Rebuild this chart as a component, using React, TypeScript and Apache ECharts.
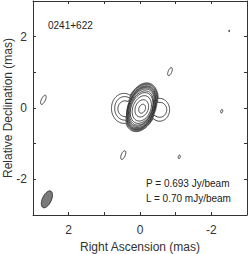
import React, { useEffect, useRef } from "react";
import * as echarts from "echarts";

// Axis ranges (mas)
const xRange = [-3, 3];
const yRange = [-3, 3];
const tickStep = 1;

// Source info
const sourceName = "0241+622";
const peakLabel = "P = 0.693 Jy/beam";
const lowestLabel = "L = 0.70 mJy/beam";

// Core (closed elliptical) contours: [cx, cy, semiMajor, semiMinor, tiltDeg]
const coreContours: number[][] = [
  [-0.04, 0.01, 0.635, 0.38, 20],
  [-0.04, 0.01, 0.61, 0.365, 20],
  [-0.04, 0.01, 0.58, 0.35, 20],
  [-0.04, 0.01, 0.545, 0.33, 21],
  [-0.04, 0.0, 0.5, 0.31, 21],
  [-0.045, 0.0, 0.45, 0.29, 22],
  [-0.05, -0.01, 0.37, 0.25, 22],
  [-0.05, -0.01, 0.25, 0.18, 22],
  [-0.06, -0.02, 0.13, 0.09, 22],
];

// Outer contours that bulge around the east and west jet components
// body: [cx, cy, semiMajor, semiMinor, tiltDeg]
const lobedBody: number[][] = [
  [-0.04, 0.02, 0.71, 0.43, 20],
  [-0.04, 0.02, 0.685, 0.415, 20],
  [-0.04, 0.02, 0.66, 0.4, 20],
];
// east lobe: [cx, cy, semiY, semiX] (or empty)
const eastLobe: number[][] = [
  [0.45, -0.01, 0.42, 0.35],
  [0.43, -0.01, 0.33, 0.28],
  [0.42, -0.02, 0.22, 0.2],
];
// west lobe: [cx, cy, semiY, semiX] (or empty)
const westLobe: number[][] = [
  [-0.55, -0.05, 0.32, 0.28],
  [-0.55, -0.05, 0.21, 0.2],
  [],
];

// Isolated lowest-level contours: [cx, cy, semiMajor, semiMinor, tiltDeg]
const noiseContours: number[][] = [
  [-0.84, 1.02, 0.12, 0.05, 22],
  [2.71, 0.23, 0.14, 0.055, 25],
  [0.47, -1.32, 0.13, 0.055, 22],
  [-1.1, -1.37, 0.05, 0.028, 15],
  [-2.29, -0.09, 0.05, 0.028, 15],
  [-2.5, 2.16, 0.025, 0.012, 0],
];

// Restoring beam: [cx, cy, semiMajor, semiMinor, tiltDeg]
const beam: number[][] = [[2.61, -2.56, 0.255, 0.125, 25]];

const FONT = "'Liberation Sans', Arial, Helvetica, sans-serif";

function frame(tiltDeg: number) {
  const t = (tiltDeg * Math.PI) / 180;
  return { u: [-Math.sin(t), Math.cos(t)], v: [Math.cos(t), Math.sin(t)] };
}

function ellipsePoints(cx: number, cy: number, a: number, b: number, tilt: number, n = 90) {
  const { u, v } = frame(tilt);
  const pts: number[][] = [];
  for (let k = 0; k < n; k++) {
    const s = (2 * Math.PI * k) / n;
    const ca = a * Math.cos(s);
    const sb = b * Math.sin(s);
    pts.push([cx + ca * u[0] + sb * v[0], cy + ca * u[1] + sb * v[1]]);
  }
  return pts;
}

// farthest intersection of ray from origin o along d with ellipse
function farHit(o: number[], d: number[], cx: number, cy: number, a: number, b: number, tilt: number) {
  const { u, v } = frame(tilt);
  const w = [o[0] - cx, o[1] - cy];
  const du = d[0] * u[0] + d[1] * u[1];
  const dv = d[0] * v[0] + d[1] * v[1];
  const wu = w[0] * u[0] + w[1] * u[1];
  const wv = w[0] * v[0] + w[1] * v[1];
  const A = (du * du) / (a * a) + (dv * dv) / (b * b);
  const B = 2 * ((wu * du) / (a * a) + (wv * dv) / (b * b));
  const C = (wu * wu) / (a * a) + (wv * wv) / (b * b) - 1;
  const disc = B * B - 4 * A * C;
  if (disc < 0) return -1;
  return (-B + Math.sqrt(disc)) / (2 * A);
}

function lobedPoints(i: number, n = 360) {
  const body = lobedBody[i];
  const o = [body[0], body[1]];
  const lobes = [eastLobe[i], westLobe[i]].filter((l) => l && l.length === 4);
  const pts: number[][] = [];
  for (let k = 0; k < n; k++) {
    const th = (2 * Math.PI * k) / n;
    const d = [Math.cos(th), Math.sin(th)];
    let r = farHit(o, d, body[0], body[1], body[2], body[3], body[4]);
    for (const l of lobes) {
      const t = farHit(o, d, l[0], l[1], l[2], l[3], 0);
      if (t > r) r = t;
    }
    pts.push([o[0] + r * d[0], o[1] + r * d[1]]);
  }
  return pts;
}

const lineStyle = { fill: "none", stroke: "#111", lineWidth: 0.8 };

export default function App() {
  const ref = useRef<HTMLDivElement>(null);
  useEffect(() => {
    if (!ref.current) return;
    const chart = echarts.init(ref.current, null, { renderer: "svg" });

    const ellipseRender = (style: any) => (params: any, api: any) => {
      const pts = ellipsePoints(
        api.value(0),
        api.value(1),
        api.value(2),
        api.value(3),
        api.value(4)
      ).map((p) => api.coord(p));
      return { type: "polygon", shape: { points: pts }, style };
    };

    const axisCommon = {
      type: "value" as const,
      interval: tickStep,
      axisLine: { show: true, onZero: false, lineStyle: { color: "#333", width: 1 } },
      axisTick: { show: true, inside: true, length: 3, lineStyle: { color: "#333" } },
      splitLine: { show: false },
    };

    const labelFmt = (v: number) => (Math.round(v) % 2 === 0 ? String(Math.round(v)) : "");

    chart.setOption({
      animation: false,
      grid: {
        left: 33,
        right: 2,
        top: 1,
        bottom: 39,
        containLabel: false,
        outerBoundsMode: "none",
      },
      xAxis: [
        {
          ...axisCommon,
          min: xRange[0],
          max: xRange[1],
          inverse: true,
          position: "bottom",
          name: "Right Ascension (mas)",
          nameLocation: "middle",
          nameGap: 26,
          nameMoveOverlap: false,
          nameTextStyle: { fontSize: 12, color: "#333", fontFamily: FONT },
          axisLabel: { formatter: labelFmt, fontSize: 12, color: "#333", margin: 9, fontFamily: FONT },
        },
        {
          ...axisCommon,
          min: xRange[0],
          max: xRange[1],
          inverse: true,
          position: "top",
          axisLabel: { show: false },
        },
      ],
      yAxis: [
        {
          ...axisCommon,
          min: yRange[0],
          max: yRange[1],
          position: "left",
          name: "Relative Declination (mas)",
          nameLocation: "middle",
          nameGap: 19,
          nameMoveOverlap: false,
          nameTextStyle: { fontSize: 12, color: "#333", fontFamily: FONT },
          axisLabel: { formatter: labelFmt, fontSize: 12, color: "#333", margin: 6, fontFamily: FONT },
        },
        {
          ...axisCommon,
          min: yRange[0],
          max: yRange[1],
          position: "right",
          axisLabel: { show: false },
        },
      ],
      series: [
        {
          type: "custom",
          name: "lobed",
          silent: true,
          encode: { x: 0, y: 1 },
          data: lobedBody.map((_, i) => [0, 0, i]),
          renderItem: (params: any, api: any) => {
            const i = api.value(2);
            const pts = lobedPoints(i).map((p) => api.coord(p));
            return { type: "polygon", shape: { points: pts }, style: lineStyle };
          },
        },
        {
          type: "custom",
          name: "core",
          silent: true,
          encode: { x: 0, y: 1 },
          data: coreContours,
          renderItem: ellipseRender(lineStyle),
        },
        {
          type: "custom",
          name: "noise",
          silent: true,
          encode: { x: 0, y: 1 },
          data: noiseContours,
          renderItem: ellipseRender(lineStyle),
        },
        {
          type: "custom",
          name: "beam",
          silent: true,
          encode: { x: 0, y: 1 },
          data: beam,
          renderItem: ellipseRender({ fill: "#7a7a7a", stroke: "#111", lineWidth: 0.8 }),
        },
      ],
      graphic: [
        {
          type: "text",
          left: 48,
          top: 20,
          style: { text: sourceName, fontSize: 10, fill: "#222", fontFamily: FONT },
        },
        {
          type: "text",
          left: 146,
          top: 178,
          style: { text: peakLabel, fontSize: 10, fill: "#222", fontFamily: FONT },
        },
        {
          type: "text",
          left: 146,
          top: 193,
          style: { text: lowestLabel, fontSize: 10, fill: "#222", fontFamily: FONT },
        },
      ],
    });
    return () => chart.dispose();
  }, []);
  return <div ref={ref} style={{ width: 249, height: 254, position: "absolute", left: 0, top: 0 }} />;
}
